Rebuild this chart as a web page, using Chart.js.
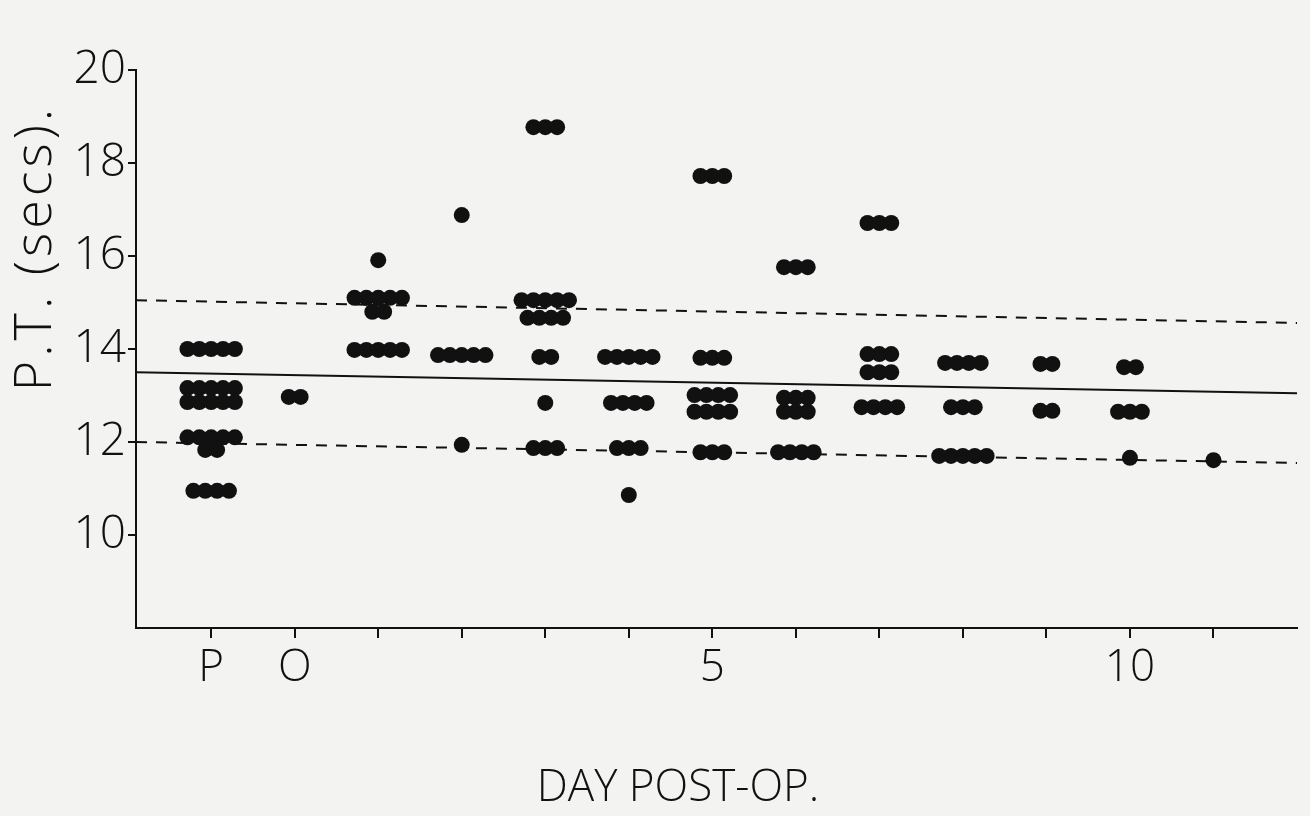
<!DOCTYPE html>
<html>
<head>
<meta charset="utf-8">
<title>P.T. by day post-op</title>
<script src="https://cdn.jsdelivr.net/npm/chart.js@4/dist/chart.umd.min.js"></script>
<style>
  html, body { margin: 0; padding: 0; background: #f3f3f1; }
  #wrap { width: 1310px; height: 816px; }
</style>
</head>
<body>
<div id="wrap"><canvas id="ptChart" width="1310" height="816"></canvas></div>
<script>
// ====== DATA ======
// x categories: P = pre-op, O = day of op, then days 1..11
const days = ['P', 'O', '1', '2', '3', '4', '5', '6', '7', '8', '9', '10', '11'];
const xTickLabels = ['P', 'O', '', '', '', '', '5', '', '', '', '', '10', ''];
const yTicks = [10, 12, 14, 16, 18, 20];

// each row: [P.T. in secs, number of patients with that value]
const ptP  = [[14.0, 5], [13.16, 5], [12.86, 5], [12.1, 5], [11.83, 2], [10.95, 4]];
const ptO  = [[12.97, 2]];
const pt1  = [[15.91, 1], [15.1, 5], [14.8, 2], [13.98, 5]];
const pt2  = [[16.88, 1], [13.87, 5], [11.94, 1]];
const pt3  = [[18.77, 3], [15.05, 5], [14.67, 4], [13.83, 2], [12.84, 1], [11.87, 3]];
const pt4  = [[13.83, 5], [12.84, 4], [11.87, 3], [10.86, 1]];
const pt5  = [[17.72, 3], [13.81, 3], [13.01, 4], [12.65, 4], [11.78, 3]];
const pt6  = [[15.76, 3], [12.95, 3], [12.65, 3], [11.78, 4]];
const pt7  = [[16.71, 3], [13.89, 3], [13.5, 3], [12.75, 4]];
const pt8  = [[13.7, 4], [12.75, 3], [11.7, 5]];
const pt9  = [[13.68, 2], [12.67, 2]];
const pt10 = [[13.61, 2], [12.65, 3], [11.66, 1]];
const pt11 = [[11.61, 1]];
const groups = [ptP, ptO, pt1, pt2, pt3, pt4, pt5, pt6, pt7, pt8, pt9, pt10, pt11];

// reference lines, value at left and right end (as drawn)
const lineX     = [-0.9, 13];
const meanLine  = [13.5, 13.05];
const upperLine = [15.05, 14.56];
const lowerLine = [12.0, 11.55];

const xTitle = 'DAY POST-OP.';
const yTitle = 'P.T. (secs).';

// ====== STYLE ======
const ink = '#111111';
const fontFamily = '"Open Sans", "DejaVu Sans", sans-serif';
const dotStep = 0.142; // horizontal spread of equal values, in day units

// spread equal values side by side around the day tick
function dotsFor(rows, dayIndex) {
  const pts = [];
  rows.forEach(([v, n]) => {
    for (let k = 0; k < n; k++) {
      pts.push({ x: dayIndex + (k - (n - 1) / 2) * dotStep, y: v });
    }
  });
  return pts;
}
const dots = groups.flatMap((rows, i) => dotsFor(rows, i));

function refLine(vals, dash) {
  return {
    type: 'line',
    data: lineX.map((x, i) => ({ x, y: vals[i] })),
    borderColor: ink, borderWidth: 2, borderDash: dash,
    pointRadius: 0, fill: false, tension: 0,
  };
}

// axis titles drawn as text at their places on the sheet
const axisTitles = {
  id: 'axisTitles',
  afterDraw(chart) {
    const ctx = chart.ctx;
    ctx.save();
    ctx.fillStyle = ink;
    ctx.textAlign = 'center';
    ctx.textBaseline = 'middle';
    ctx.font = '300 44px ' + fontFamily;
    ctx.fillText(xTitle, 678, 788);
    ctx.translate(36, 248);
    ctx.rotate(-Math.PI / 2);
    ctx.font = '300 52px ' + fontFamily;
    ctx.letterSpacing = '4px';
    ctx.fillText(yTitle, 0, 0);
    ctx.restore();
  }
};

new Chart(document.getElementById('ptChart'), {
  type: 'scatter',
  data: {
    datasets: [
      refLine(meanLine, []),
      refLine(upperLine, [11, 9]),
      refLine(lowerLine, [11, 9]),
      { label: 'P.T.', data: dots, backgroundColor: ink, borderColor: ink, borderWidth: 0, pointRadius: 8, pointHoverRadius: 8 },
    ]
  },
  options: {
    responsive: false, animation: false,
    layout: { padding: { left: 0, top: 70, right: 13, bottom: 0 } },
    plugins: { legend: { display: false }, tooltip: { enabled: false } },
    scales: {
      x: {
        type: 'linear', min: lineX[0], max: lineX[1],
        afterBuildTicks: s => { s.ticks = days.map((_, i) => ({ value: i })); },
        afterFit: s => { s.height = 188; },
        border: { display: true, color: ink, width: 2 },
        grid: { drawOnChartArea: false, drawTicks: true, tickLength: 10, color: ink, lineWidth: 2 },
        ticks: { color: ink, padding: 4, maxRotation: 0, autoSkip: false,
                 font: { family: fontFamily, size: 44, weight: '300' },
                 callback: (v, i) => xTickLabels[i] },
      },
      y: {
        min: 8, max: 20,
        afterBuildTicks: s => { s.ticks = yTicks.map(v => ({ value: v })); },
        afterFit: s => { s.width = 136; },
        border: { display: true, color: ink, width: 2 },
        grid: { drawOnChartArea: false, drawTicks: true, tickLength: 8, color: ink, lineWidth: 2 },
        ticks: { color: ink, padding: 2,
                 font: { family: fontFamily, size: 46, weight: '300' } },
      }
    }
  },
  plugins: [axisTitles]
});
</script>
</body>
</html>
